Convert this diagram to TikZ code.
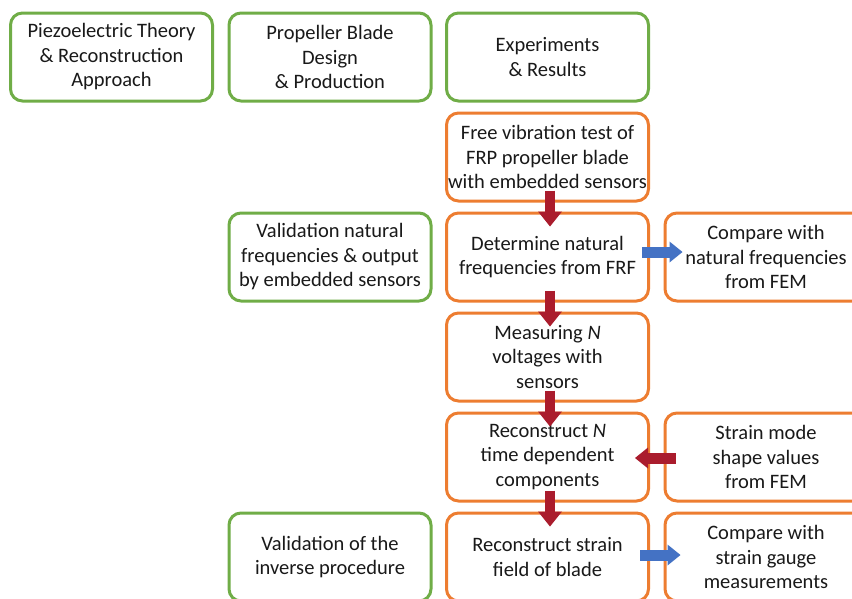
\documentclass[tikz,border=0pt]{standalone}
\usepackage{fontspec}
\setmainfont{Carlito}
\usepackage{tikz}
\usetikzlibrary{arrows.meta}
\definecolor{verde}{RGB}{112,173,71}
\definecolor{arancio}{RGB}{237,125,49}
\definecolor{rosso}{RGB}{170,28,45}
\definecolor{blu}{RGB}{68,114,196}
\definecolor{testo}{RGB}{25,25,25}
\tikzset{
  blocco/.style = {draw, line width=3pt, rounded corners=12pt, minimum width=202pt,
    minimum height=88pt, inner sep=0pt, align=center, text=testo, fill=white},
  bloccoV/.style = {blocco, draw=verde},
  bloccoA/.style = {blocco, draw=arancio},
  frecciaGiu/.style = {rosso, line width=10pt, -{Triangle[length=15pt, width=24pt, line width=0pt]}},
  frecciaDx/.style = {blu, line width=11pt, -{Triangle[length=13pt, width=21pt, line width=0pt]}},
  frecciaSx/.style = {rosso, line width=11pt, -{Triangle[length=13pt, width=21pt, line width=0pt]}}
}

\begin{document}
\begin{tikzpicture}[x = 1pt, y = -1pt, font = \fontsize{20.5}{24.5}\selectfont]
    % Parametri
    \pgfmathsetmacro{\xa}{111.5};
    \pgfmathsetmacro{\xb}{330};
    \pgfmathsetmacro{\xc}{547.5};
    \pgfmathsetmacro{\xd}{766};
    \pgfmathsetmacro{\dy}{100};
    % Cornice
    \useasboundingbox (0,0) rectangle (852,598);
    \clip (0,0) rectangle (852,598);
    % Titoli
    \node[bloccoV] (teoria) at (\xa,57) {Piezoelectric Theory\\\& Reconstruction\\Approach};
    \node[bloccoV] (pala) at (\xb,57) {Propeller Blade\\Design\\\& Production};
    \node[bloccoV] (esperimenti) at (\xc,57) {Experiments\\\& Results};
    % Colonna centrale
    \node[bloccoA] (prova) at (\xc,57+\dy) {Free vibration test of\\FRP propeller blade\\with embedded sensors};
    \node[bloccoA] (frequenze) at (\xc,57+2*\dy) {Determine natural\\frequencies from FRF};
    \node[bloccoA] (tensioni) at (\xc,57+3*\dy) {Measuring \textit{N}\\voltages with\\sensors};
    \node[bloccoA] (componenti) at (\xc,57+4*\dy) {Reconstruct \textit{N}\\time dependent\\components};
    \node[bloccoA] (campo) at (\xc,57+5*\dy) {Reconstruct strain\\field of blade};
    % Colonna destra
    \node[bloccoA] (fem) at (\xd,57+2*\dy) {Compare with\\natural frequencies\\from FEM};
    \node[bloccoA] (modi) at (\xd,57+4*\dy) {Strain mode\\shape values\\from FEM};
    \node[bloccoA] (estensimetri) at (\xd,57+5*\dy) {Compare with\\strain gauge\\measurements};
    % Validazioni
    \node[bloccoV] (validaFreq) at (\xb,57+2*\dy) {Validation natural\\frequencies \& output\\by embedded sensors};
    \node[bloccoV] (validaInv) at (\xb,57+5*\dy) {Validation of the\\inverse procedure};
    % Frecce
    \foreach \a/\b in {prova/frequenze, frequenze/tensioni, tensioni/componenti, componenti/campo}
        \draw[frecciaGiu, shorten <= -12pt, shorten >= -15pt]
            ([xshift=2.5pt]\a.south) -- ([xshift=2.5pt]\b.north);
    \draw[frecciaDx, shorten <= -8pt, shorten >= -19pt]
        ([yshift=5pt]frequenze.east) -- ([yshift=5pt]fem.west);
    \draw[frecciaDx, shorten <= -10pt, shorten >= -17pt]
        ([yshift=2pt]campo.east) -- ([yshift=2pt]estensimetri.west);
    \draw[frecciaSx, shorten <= -12pt, shorten >= -15pt]
        ([yshift=-1pt]modi.west) -- ([yshift=-1pt]componenti.east);
\end{tikzpicture}
\end{document}
